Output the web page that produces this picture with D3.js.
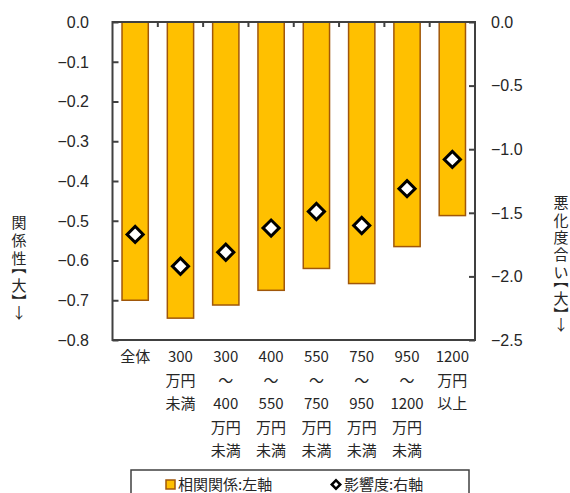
<!DOCTYPE html>
<html>
<head>
<meta charset="utf-8">
<script src="https://cdn.jsdelivr.net/npm/d3@7"></script>
<style>
  body { margin: 0; background: #fff; }
  text { font-family: "Liberation Sans", "Noto Sans CJK JP", sans-serif; fill: #262626; }
  .jp { font-family: "Noto Sans CJK JP", sans-serif; }
</style>
</head>
<body>
<svg id="chart" width="570" height="493"></svg>
<script>
// categories, multi-line labels
var categories = ["全体", "300万円未満", "300～400", "400～550", "550～750", "750～950", "950～1200", "1200以上"]
var category_lines = [
    ["全体"],
    ["300", "万円", "未満"],
    ["300", "～", "400", "万円", "未満"],
    ["400", "～", "550", "万円", "未満"],
    ["550", "～", "750", "万円", "未満"],
    ["750", "～", "950", "万円", "未満"],
    ["950", "～", "1200", "万円", "未満"],
    ["1200", "万円", "以上"]
]
// 相関関係 (left axis)
var correlation = [-0.70, -0.745, -0.712, -0.675, -0.62, -0.658, -0.565, -0.487]
// 影響度 (right axis)
var influence = [-1.67, -1.92, -1.81, -1.62, -1.49, -1.60, -1.31, -1.08]

var left_ticks = [0, -0.1, -0.2, -0.3, -0.4, -0.5, -0.6, -0.7, -0.8]
var right_ticks = [0, -0.5, -1.0, -1.5, -2.0, -2.5]

var svg = d3.select("#chart")

// plot area
var x0 = 112.5, x1 = 475, y0 = 22, y1 = 340

var xScale = d3.scaleBand()
    .domain(categories)
    .range([x0, x1])
    .paddingInner(0.42)
    .paddingOuter(0.21)

var yLeft = d3.scaleLinear().domain([0, -0.8]).range([y0, y1])
var yRight = d3.scaleLinear().domain([0, -2.5]).range([y0, y1])

var fmt = function(d) { return d3.format(".1f")(d).replace("-", "−") }

// bars
svg.append("g")
    .selectAll("rect")
    .data(correlation)
    .enter().append("rect")
    .attr("x", function(d, i) { return xScale(categories[i]) })
    .attr("y", yLeft(0))
    .attr("width", xScale.bandwidth())
    .attr("height", function(d) { return yLeft(d) - yLeft(0) })
    .attr("fill", "#FFC000")
    .attr("stroke", "#A0570A")
    .attr("stroke-width", 1.5)

// frame
svg.append("rect")
    .attr("x", x0).attr("y", y0)
    .attr("width", x1 - x0).attr("height", y1 - y0)
    .attr("fill", "none")
    .attr("stroke", "#404040")
    .attr("stroke-width", 2)

// left axis
var leftAxis = svg.append("g")
    .attr("transform", "translate(" + x0 + ",0)")
    .call(d3.axisRight(yLeft).tickValues(left_ticks).tickSize(6).tickFormat(""))
leftAxis.select(".domain").remove()
leftAxis.selectAll("line").attr("stroke", "#404040").attr("stroke-width", 2)

svg.append("g").selectAll("text")
    .data(left_ticks)
    .enter().append("text")
    .attr("x", 89)
    .attr("y", function(d) { return yLeft(d) })
    .attr("dy", "0.36em")
    .attr("text-anchor", "end")
    .style("font-size", "16px")
    .text(fmt)

// right axis
var rightAxis = svg.append("g")
    .attr("transform", "translate(" + x1 + ",0)")
    .call(d3.axisLeft(yRight).tickValues(right_ticks).tickSize(6).tickFormat(""))
rightAxis.select(".domain").remove()
rightAxis.selectAll("line").attr("stroke", "#404040").attr("stroke-width", 2)

svg.append("g").selectAll("text")
    .data(right_ticks)
    .enter().append("text")
    .attr("x", 491)
    .attr("y", function(d) { return yRight(d) })
    .attr("dy", "0.36em")
    .attr("text-anchor", "start")
    .style("font-size", "16px")
    .text(fmt)

// category separators on the zero line
var step = xScale.step()
svg.append("g").selectAll("line")
    .data(categories.slice(1))
    .enter().append("line")
    .attr("x1", function(d) { return xScale(d) - xScale.paddingInner() * step / 2 })
    .attr("x2", function(d) { return xScale(d) - xScale.paddingInner() * step / 2 })
    .attr("y1", y0)
    .attr("y2", y0 + 5)
    .attr("stroke", "#404040")
    .attr("stroke-width", 2)

// diamonds
svg.append("g")
    .selectAll("path")
    .data(influence)
    .enter().append("path")
    .attr("d", d3.symbol(d3.symbolSquare, 130))
    .attr("transform", function(d, i) {
        return "translate(" + (xScale(categories[i]) + xScale.bandwidth() / 2) + "," + yRight(d) + ") rotate(45)"
    })
    .attr("fill", "white")
    .attr("stroke", "black")
    .attr("stroke-width", 3)

// x labels
category_lines.forEach(function(lines, i) {
    var cx = xScale(categories[i]) + xScale.bandwidth() / 2
    lines.forEach(function(line, j) {
        svg.append("text")
            .attr("class", "jp")
            .attr("x", cx)
            .attr("y", 362 + j * 23.5)
            .attr("text-anchor", "middle")
            .style("font-size", "15px")
            .text(line)
    })
})

// vertical axis titles, one glyph per line, brackets turned and given half a slot
function verticalTitle(chars, x, yTop, pitch) {
    var fs = 15
    var cursor = yTop
    chars.forEach(function(c) {
        var isBracket = (c == "【" || c == "】")
        var slot = isBracket ? pitch / 2 : pitch
        var cy = cursor + slot / 2
        if (c == "【") cy -= fs / 4
        if (c == "】") cy += fs / 4
        cursor += slot
        svg.append("text")
            .attr("class", "jp")
            .attr("transform", "translate(" + x + "," + cy + ") rotate(" + (isBracket ? 90 : 0) + ")")
            .attr("dominant-baseline", "central")
            .attr("text-anchor", "middle")
            .style("font-size", fs + "px")
            .text(c)
    })
}
verticalTitle(["関", "係", "性", "【", "大", "】", "↓"], 19, 212, 18)
verticalTitle(["悪", "化", "度", "合", "い", "【", "大", "】", "↓"], 561, 193, 17.4)

// legend
svg.append("rect")
    .attr("x", 131).attr("y", 470)
    .attr("width", 338).attr("height", 40)
    .attr("fill", "white")
    .attr("stroke", "#404040")
    .attr("stroke-width", 1.5)

svg.append("rect")
    .attr("x", 166).attr("y", 480)
    .attr("width", 9).attr("height", 9)
    .attr("fill", "#FFC000")
    .attr("stroke", "#A0570A")
    .attr("stroke-width", 1.5)
svg.append("text")
    .attr("class", "jp")
    .attr("x", 178).attr("y", 490)
    .style("font-size", "15px")
    .text("相関関係:左軸")

svg.append("path")
    .attr("d", d3.symbol(d3.symbolSquare, 36))
    .attr("transform", "translate(336,484.5) rotate(45)")
    .attr("fill", "white")
    .attr("stroke", "black")
    .attr("stroke-width", 2.5)
svg.append("text")
    .attr("class", "jp")
    .attr("x", 344).attr("y", 490)
    .style("font-size", "15px")
    .text("影響度:右軸")
</script>
</body>
</html>
